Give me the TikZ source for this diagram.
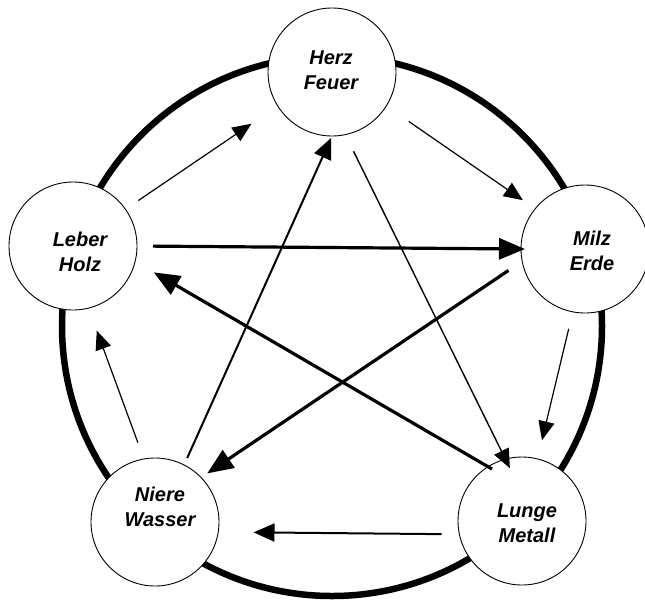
\documentclass[tikz,border=0pt]{standalone}
\usepackage{fontspec}
\setmainfont{Liberation Sans}
\usetikzlibrary{arrows.meta}
\begin{document}
\begin{tikzpicture}[x=1pt,y=-1pt,
  elem/.style={circle,draw,fill=white,line width=0.9pt,minimum size=128pt,inner sep=0pt,outer sep=0pt},
  lbl/.style={font=\fontsize{20}{25}\selectfont\bfseries\itshape,align=center,inner sep=0pt},
  ringc/.style={circle,draw,line width=6.5pt,minimum size=540pt,inner sep=0pt,outer sep=0pt},
  thinarr/.style={line width=1.2pt,-{Triangle[length=19pt,width=16pt]}},
  medarr/.style={line width=2pt,-{Triangle[length=21pt,width=18pt]}},
  thickarr/.style={line width=3.2pt,-{Triangle[length=26pt,width=21pt]}}]
\useasboundingbox (0,0) rectangle (645,603);
\fill[white] (0,0) rectangle (645,603);
\node[ringc] (ring) at (332,326) {};
\node[elem] (herz) at (332,72) {};
\node[elem] (leber) at (73,246) {};
\node[elem] (milz) at (585,249) {};
\node[elem] (niere) at (155,522) {};
\node[elem] (lunge) at (522,521) {};
\node[lbl] (herzT) at (331,70) {Herz\\Feuer};
\node[lbl] (leberT) at (80,252) {Leber\\Holz};
\node[lbl] (milzT) at (592,251) {Milz\\Erde};
\node[lbl] (niereT) at (160,507) {Niere\\Wasser};
\node[lbl] (lungeT) at (527,523) {Lunge\\Metall};
% outer cycle
\draw[thinarr, shorten <=15.6pt, shorten >=31.7pt] (leber.35.3) -- (herz.212.2);
\draw[thinarr, shorten <=27.3pt, shorten >=15pt] (herz.-32.5) -- (milz.141.7);
\draw[thinarr, shorten <=17.4pt, shorten >=19.2pt] (milz.259.4) -- (lunge.76.8);
\draw[medarr, shorten <=17.8pt, shorten >=35.3pt] (lunge.192) -- (niere.-9.3);
\draw[thinarr, shorten <=17.4pt, shorten >=24pt] (niere.100.6) -- (leber.-76.9);
% star
\draw[thickarr, shorten <=16pt, shorten >=-4pt] (leber.east) -- (milz.west);
\draw[thickarr, shorten <=16.6pt, shorten >=7.4pt] (milz.191.5) -- (niere.44.4);
\draw[thickarr, shorten <=-4.6pt, shorten >=21.6pt] (lunge.122.6) -- (leber.-14.2);
\draw[medarr, shorten <=7.6pt, shorten >=2pt] (niere.63.4) -- (herz.-90.9);
\draw[thinarr, line width=1.4pt, shorten <=18.6pt, shorten >=-10pt] (herz.-78.8) -- (lunge.105);
\end{tikzpicture}
\end{document}
